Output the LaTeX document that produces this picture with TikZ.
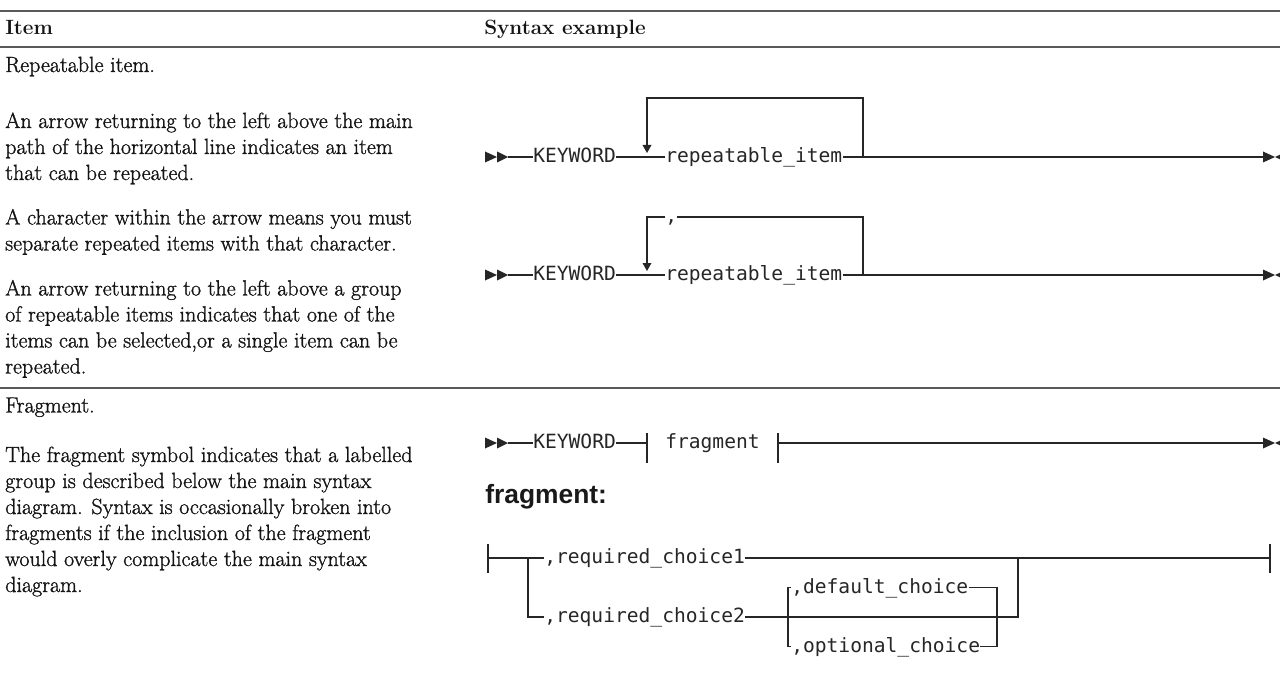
\documentclass[tikz,border=0pt]{standalone}
\usepackage{fontspec}
\setmainfont{Latin Modern Roman}[RawFeature={embolden=1.2}]
\newfontfamily\hdrfont{Latin Modern Roman}
\newfontfamily\monof{DejaVu Sans Mono}
\newfontfamily\labf{Liberation Sans}
\begin{document}
\begin{tikzpicture}[x=0.75pt,y=-0.75pt,
  txt/.style={font=\fontsize{16.5}{20}\selectfont, text=black!92, inner sep=0pt, anchor=base west},
  hdr/.style={txt, font=\hdrfont\fontsize{15.5}{19}\selectfont\bfseries},
  mono/.style={font=\monof\fontsize{14.7}{17}\selectfont, inner sep=0pt, text height=8.25pt, text depth=0pt, anchor=west, text=black!85},
  rail/.style={line width=1.1pt, draw=black!85},
  rulex/.style={line width=1.3pt, draw=black!65},
  tipf/.style={fill=black!85, draw=none},
  startarr/.pic={\fill[tipf] (-12,-5.5) -- (0,0) -- (-12,5.5) -- cycle;
                 \fill[tipf] (0,-5.5) -- (11,0) -- (0,5.5) -- cycle;},
  endarr/.pic={\fill[tipf] (-12,-5.5) -- (0,0) -- (-12,5.5) -- cycle;
               \fill[tipf] (0,0) -- (5,-2.3) -- (5,2.3) -- cycle;},
  downarr/.pic={\fill[tipf] (-4.5,-8) -- (4.5,-8) -- (0,0) -- cycle;}
]
\useasboundingbox (0,0) rectangle (1280,688);

% rules
\draw[rulex, line width=1.5pt] (0,11) -- (1280,11);
\draw[rulex] (0,47) -- (1280,47);
\draw[rulex] (0,388) -- (1280,388);

% headers
\node[hdr] (h1) at (5,35) {Item};
\node[hdr] (h2) at (484,35) {Syntax example};

% left column
\node[txt] (r0) at (5,72) {Repeatable item.};
\node[txt] (a1) at (5,128) {An arrow returning to the left above the main};
\node[txt] (a2) at (5,154) {path of the horizontal line indicates an item};
\node[txt] (a3) at (5,180) {that can be repeated.};
\node[txt] (b1t) at (5,224.5) {A character within the arrow means you must};
\node[txt] (b2t) at (5,250.5) {separate repeated items with that character.};
\node[txt] (c1) at (5,295.5) {An arrow returning to the left above a group};
\node[txt] (c2) at (5,321.5) {of repeatable items indicates that one of the};
\node[txt] (c3) at (5,347.5) {items can be selected,or a single item can be};
\node[txt] (c4) at (5,373.5) {repeated.};
\node[txt] (f0) at (5,412.5) {Fragment.};
\node[txt] (d1) at (5,462) {The fragment symbol indicates that a labelled};
\node[txt] (d2) at (5,488) {group is described below the main syntax};
\node[txt] (d3) at (5,514) {diagram. Syntax is occasionally broken into};
\node[txt] (d4) at (5,540) {fragments if the inclusion of the fragment};
\node[txt] (d5) at (5,566) {would overly complicate the main syntax};
\node[txt] (d6) at (5,592) {diagram.};

% ---------- diagram 1 ----------
\pic at (497,157) {startarr};
\coordinate (s1) at (508,157);
\node[mono] (kw1) at (533,157) {KEYWORD};
\node[mono] (it1) at (665,157) {repeatable\_item};
\coordinate (e1) at (1263,157);
\coordinate (l1t) at (647,98);
\coordinate (l1r) at (863,157);
\coordinate (l1d) at (647,146);
\draw[rail] (s1) -- (kw1.west);
\draw[rail] (kw1.east) -- (it1.west);
\draw[rail] (it1.east) -- (e1);
\draw[rail] (l1r) |- (l1t) -- (l1d);
\pic at (647,153) {downarr};
\pic at (1275,157) {endarr};

% ---------- diagram 2 ----------
\pic at (497,275) {startarr};
\coordinate (s2) at (508,275);
\node[mono] (kw2) at (533,275) {KEYWORD};
\node[mono] (it2) at (665,275) {repeatable\_item};
\node[mono] (cm2) at (665,217) {,};
\coordinate (e2) at (1263,275);
\coordinate (l2t) at (647,217);
\coordinate (l2r) at (863,275);
\coordinate (l2d) at (647,264);
\draw[rail] (s2) -- (kw2.west);
\draw[rail] (kw2.east) -- (it2.west);
\draw[rail] (it2.east) -- (e2);
\draw[rail] (l2r) |- (cm2.east);
\draw[rail] (cm2.west) -- (l2t) -- (l2d);
\pic at (647,271) {downarr};
\pic at (1275,275) {endarr};

% ---------- diagram 3 ----------
\pic at (497,443) {startarr};
\coordinate (s3) at (508,443);
\node[mono] (kw3) at (533,443) {KEYWORD};
\coordinate (tk1) at (647,443);
\node[mono] (fr3) at (665,443) {fragment};
\coordinate (tk2) at (778,443);
\coordinate (e3) at (1263,443);
\draw[rail] (s3) -- (kw3.west);
\draw[rail] (kw3.east) -- (tk1);
\draw[rail] ([yshift=7.5pt]tk1) -- ([yshift=-15pt]tk1);
\draw[rail] ([yshift=7.5pt]tk2) -- ([yshift=-15pt]tk2);
\draw[rail] (tk2) -- (e3);
\pic at (1275,443) {endarr};

% ---------- fragment ----------
\node[font=\labf\bfseries\fontsize{19.8}{23}\selectfont, text=black!90, anchor=base west, inner sep=0pt] (flab) at (485,503) {fragment:};

\coordinate (fs) at (488,558);
\coordinate (fe) at (1270,558);
\coordinate (br) at (528,558);
\node[mono] (rc1) at (544,558) {,required\_choice1};
\node[mono] (rc2) at (544,617) {,required\_choice2};
\node[mono] (dc) at (791,587.5) {,default\_choice};
\node[mono] (oc) at (791,646.5) {,optional\_choice};
\coordinate (gl) at (788,587.5);
\coordinate (gr) at (997,587.5);
\coordinate (jr) at (1018,558);
\draw[rail] ([yshift=10.5pt]fs) -- ([yshift=-11pt]fs);
\draw[rail] ([yshift=10.5pt]fe) -- ([yshift=-11pt]fe);
\draw[rail] (fs) -- (rc1.west);
\draw[rail] (br) |- (rc2.west);
\draw[rail] (rc1.east) -- (fe);
\draw[rail] (rc2.east) -| (jr);
\draw[rail] (dc.west) -- (gl) |- (oc.west);
\draw[rail] (dc.east) -- (gr) |- (oc.east);
\end{tikzpicture}
\end{document}
